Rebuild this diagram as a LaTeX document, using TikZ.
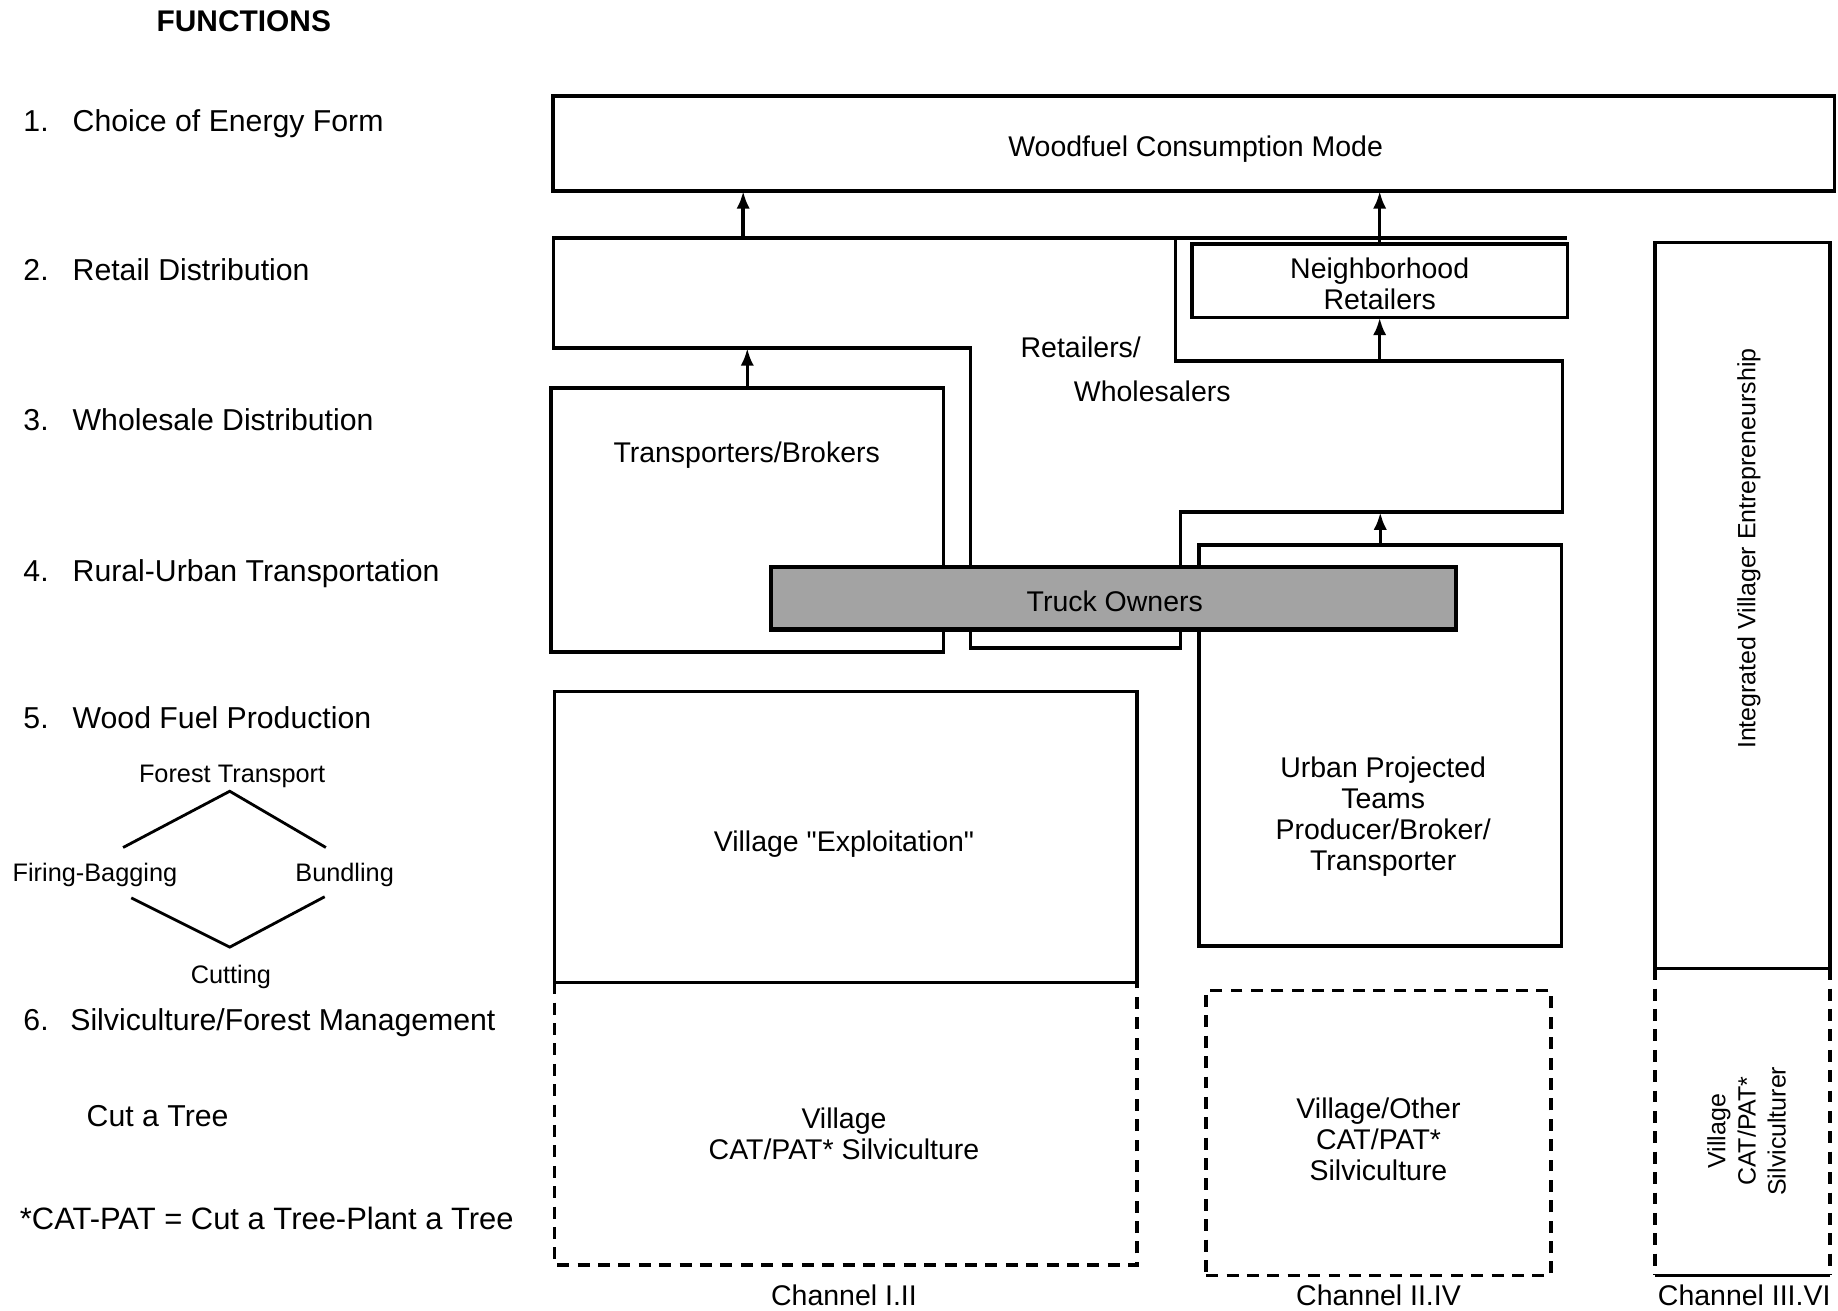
\documentclass[tikz,border=0pt]{standalone}
\usepackage{fontspec}
\setmainfont{Liberation Sans}[Ligatures=TeXOff]
\usetikzlibrary{arrows.meta}

\begin{document}
\begin{tikzpicture}[x=0.011722cm, y=-0.011722cm,
  every node/.style={inner sep=0pt, outer sep=0pt},
  lab/.style={anchor=west, font=\fontsize{8.6}{10}\selectfont, text height=6.2pt, text depth=0pt},
  head/.style={font=\bfseries\fontsize{8.5}{10}\selectfont, text height=6.1pt, text depth=0pt},
  step lab/.style={font=\fontsize{7.2}{8}\selectfont, text height=5.2pt, text depth=0pt},
  bt/.style={font=\fontsize{8.1}{8.8}\selectfont, align=center},
  vt/.style={font=\fontsize{7.1}{8.6}\selectfont, align=center, rotate=90},
  box/.style={draw, line width=1pt},
  ln/.style={line width=1pt},
  thin/.style={line width=0.8pt},
  dsh/.style={line width=1pt, dash pattern=on 3.4pt off 2.4pt},
  arr/.style={line width=1pt, -{Latex[length=5pt,width=3.8pt]}},
]
\useasboundingbox (0,0) rectangle (1568,1118);

% ---- function column ----
\node[head] (fn) at (208,18) {FUNCTIONS};
\node[lab] (n1) at (20,103) {1.};  \node[lab] (f1) at (62,103) {Choice of Energy Form};
\node[lab] (n2) at (20,230) {2.};  \node[lab] (f2) at (62,230) {Retail Distribution};
\node[lab] (n3) at (20,358) {3.};  \node[lab] (f3) at (62,358) {Wholesale Distribution};
\node[lab] (n4) at (20,487) {4.};  \node[lab] (f4) at (62,487) {Rural-Urban Transportation};
\node[lab] (n5) at (20,612) {5.};  \node[lab] (f5) at (62,612) {Wood Fuel Production};
\node[lab] (n6) at (20,870) {6.};  \node[lab] (f6) at (60,870) {Silviculture/Forest Management};
\node[lab] (cat) at (74,952) {Cut a Tree};
\node[lab, font=\fontsize{8.8}{10}\selectfont] (note) at (17,1040) {*CAT-PAT = Cut a Tree-Plant a Tree};

% ---- production steps ----
\node[step lab] (ft) at (198,660) {Forest Transport};
\node[step lab] (fb) at (81,744) {Firing-Bagging};
\node[step lab] (bd) at (294,744) {Bundling};
\node[step lab] (ct) at (197,831) {Cutting};
\coordinate (dt)  at (196,675);
\coordinate (dtl) at (105,723);
\coordinate (dtr) at (278,723);
\coordinate (db)  at (196,808);
\coordinate (dbl) at (112,766);
\coordinate (dbr) at (277,765);
\draw[thin] (dtl) -- (dt) -- (dtr);
\draw[thin] (dbl) -- (db) -- (dbr);

% ---- consumption ----
\node[box, minimum width=12.812cm, minimum height=0.949cm] (cons) at (1018.5,122.5) {};
\node[bt] (consl) at (1020,127) {Woodfuel Consumption Mode};

% ---- retailers / wholesalers outline ----
\coordinate (r1) at (472,203);
\coordinate (r2) at (1003,203);
\coordinate (r3) at (1003,308);
\coordinate (r4) at (1333,308);
\coordinate (r5) at (1333,437);
\coordinate (r6) at (1007,437);
\coordinate (r7) at (1007,553);
\coordinate (r8) at (828,553);
\coordinate (r9) at (828,297);
\coordinate (r10) at (472,297);
\coordinate (r11) at (1337,203);
\draw[ln] (r1) -- (r2) -- (r3) -- (r4) -- (r5) -- (r6) -- (r7) -- (r8) -- (r9) -- (r10) -- cycle;
\draw[ln] (r2) -- (r11);
\node[bt] (rl1) at (922,296) {Retailers/};
\node[bt] (rl2) at (983,334) {Wholesalers};

\node[box, fill=white, minimum width=3.751cm, minimum height=0.738cm] (nbr) at (1177,239.5) {};
\node[bt] (nbrl) at (1177,242) {Neighborhood\\Retailers};

% ---- wholesale / transport ----
\node[box, minimum width=3.927cm, minimum height=2.637cm] (trans) at (637.5,443.5) {};
\node[bt] (transl) at (637,388) {Transporters/Brokers};

\node[box, minimum width=3.622cm, minimum height=4.009cm] (urban) at (1177.5,636) {};
\node[bt] (urbanl) at (1180,697) {Urban Projected\\Teams\\Producer/Broker/\\Transporter};

% ---- village production ----
\node[box, minimum width=5.826cm, minimum height=2.907cm] (expl) at (721.5,714) {};
\node[bt] (expll) at (720,720) {Village "Exploitation"};

\node[minimum width=5.826cm, minimum height=2.825cm] (silv1) at (721.5,958.5) {};
\draw[dsh] (silv1.north west) -- (silv1.south west) -- (silv1.south east) -- (silv1.north east);
\node[bt] (silv1l) at (720,967) {Village\\CAT/PAT* Silviculture};

\node[dsh, draw, minimum width=3.446cm, minimum height=2.848cm] (silv2) at (1176,966.5) {};
\node[bt] (silv2l) at (1176,972) {Village/Other\\CAT/PAT*\\Silviculture};

% ---- integrated channel ----
\node[box, minimum width=1.747cm, minimum height=7.256cm] (integ) at (1486.5,516.5) {};
\node[vt] (integl) at (1492,468) {Integrated Villager Entrepreneurship};

\node[minimum width=1.747cm, minimum height=3.071cm] (silv3) at (1486.5,957) {};
\draw[dsh] (silv3.north west) -- (silv3.south west);
\draw[dsh] (silv3.north east) -- (silv3.south east);
\draw[ln] (silv3.south west) -- (silv3.south east);
\node[vt] (silv3l) at (1490,965) {Village\\CAT/PAT*\\Silviculturer};

% ---- flows ----
\coordinate (ra) at (634,203);
\draw[arr] (ra) -- (ra |- cons.south);
\draw[arr] (nbr.north) -- (nbr.north |- cons.south);
\coordinate (rc) at (1177,308);
\draw[arr] (rc) -- (rc |- nbr.south);
\draw[arr] (trans.north) -- (trans.north |- r10);
\draw[arr] (urban.north) -- (urban.north |- r6);

% ---- truck owners ----
\node[box, line width=1.2pt, fill=black!36, minimum width=6.846cm, minimum height=0.621cm] (truck) at (950,510.5) {};
\node[bt] (truckl) at (951,513) {Truck Owners};

% ---- channel labels ----
\node[bt] (ch1) at (720,1105) {Channel I.II};
\node[bt] (ch2) at (1176,1105) {Channel II.IV};
\node[bt] (ch3) at (1488,1105) {Channel III.VI};
\end{tikzpicture}
\end{document}
